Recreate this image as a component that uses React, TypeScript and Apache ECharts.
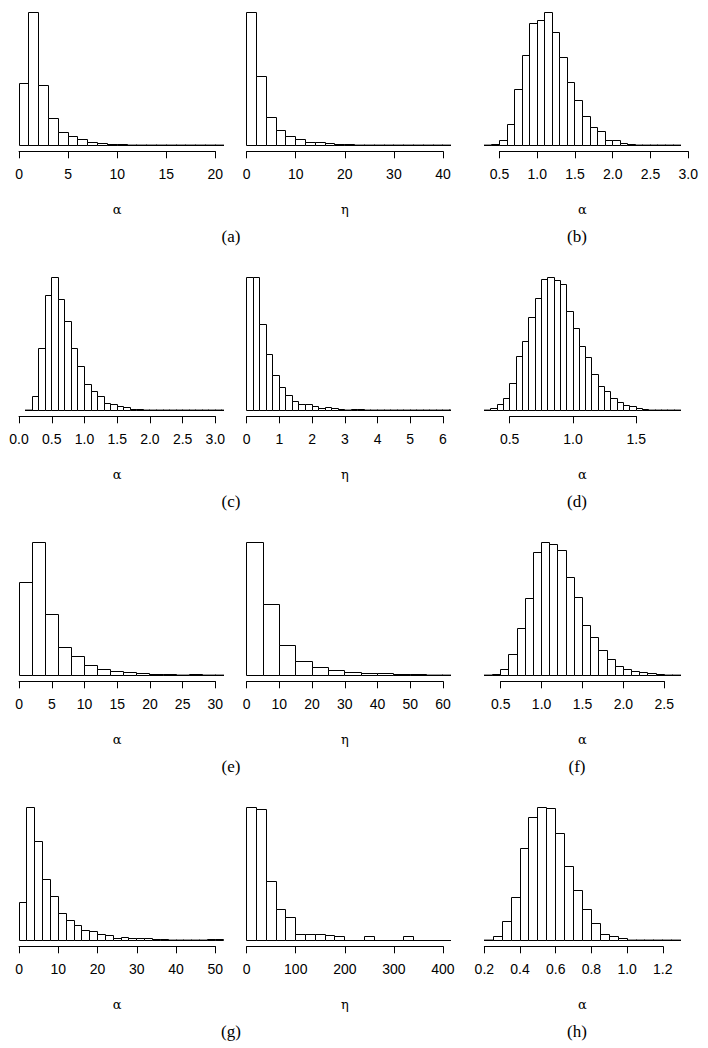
import React, { useEffect, useRef } from "react";
import * as echarts from "echarts";

// ---------- data (counts per histogram bin) ----------
// each histogram: bins = [first break, bin width]; xlim = plotted range; ticks = axis tick values

// (a) left : alpha
const aAlphaBins = [0, 1];
const aAlphaXlim = [0, 20];
const aAlphaTicks = [0, 5, 10, 15, 20];
const aAlphaCounts = [63, 134, 61, 28, 13, 9, 6, 3, 2.3, 1.3, 1, 0.8, 0.5, 0.5, 0.4, 0.3, 0.2, 0.2, 0.1, 0.1, 0.1];

// (a) right : eta
const aEtaBins = [0, 2];
const aEtaXlim = [0, 40];
const aEtaTicks = [0, 10, 20, 30, 40];
const aEtaCounts = [133.3, 69.3, 28.3, 15.3, 9.3, 6, 3.7, 3.3, 2, 1.7, 1, 0.7, 0.5, 0.4, 0.3, 0.2, 0.2, 0.2, 0.1, 0.1, 0.1];

// (b) : alpha
const bAlphaBins = [0.3, 0.1];
const bAlphaXlim = [0.3, 2.9];
const bAlphaTicks = [0.5, 1.0, 1.5, 2.0, 2.5, 3.0];
const bAlphaCounts = [0.3, 1.3, 5.3, 21.3, 56, 90.3, 122.3, 125.3, 133.3, 113.3, 88.3, 63.7, 45.7, 29, 18.7, 14, 5, 5, 2.7, 1.3, 0.7, 0.3, 0.2, 0.1, 0.1, 0.1];

// (c) left : alpha
const cAlphaBins = [0.1, 0.1];
const cAlphaXlim = [0, 3];
const cAlphaTicks = [0.0, 0.5, 1.0, 1.5, 2.0, 2.5, 3.0];
const cAlphaCounts = [0.7, 14.3, 62, 114.7, 133.3, 111.3, 89.3, 62.3, 44, 26.3, 19.3, 14, 7.7, 6.3, 4, 3, 1.7, 1, 0.7, 0.6, 0.4, 0.3, 0.3, 0.2, 0.2, 0.1, 0.1, 0.1, 0.1, 0.1, 0.1];

// (c) right : eta
const cEtaBins = [0, 0.2];
const cEtaXlim = [0, 6];
const cEtaTicks = [0, 1, 2, 3, 4, 5, 6];
const cEtaCounts = [132.7, 133.3, 86.3, 56, 35, 23.3, 15.3, 9.7, 6.3, 6.3, 4.3, 2, 3, 2.3, 1.7, 0.7, 1, 1, 0.4, 0.3, 0.2, 0.2, 0.2, 0.1, 0.1, 0.1, 0.2, 0.1, 0.1, 0.1, 0.1, 0.1];

// (d) : alpha
const dAlphaBins = [0.3, 0.05];
const dAlphaXlim = [0.3, 1.85];
const dAlphaTicks = [0.5, 1.0, 1.5];
const dAlphaCounts = [0.3, 2.3, 6.3, 12, 27, 54.7, 69, 93, 112, 131.3, 133.3, 129.7, 126.3, 99, 82.3, 64, 53, 36.3, 24.3, 19.7, 12, 8.3, 5.7, 4.3, 2.3, 1.7, 0.7, 0.5, 0.3, 0.2, 0.1];

// (e) left : alpha
const eAlphaBins = [0, 2];
const eAlphaXlim = [0, 30];
const eAlphaTicks = [0, 5, 10, 15, 20, 25, 30];
const eAlphaCounts = [93.7, 133.3, 61.3, 28.3, 19, 10.3, 6.3, 4.3, 3, 2.3, 1.3, 1.3, 0.7, 1, 0.7, 0.5];

// (e) right : eta
const eEtaBins = [0, 5];
const eEtaXlim = [0, 60];
const eEtaTicks = [0, 10, 20, 30, 40, 50, 60];
const eEtaCounts = [133.3, 71.3, 30, 14.3, 8.3, 5, 3.3, 2.3, 2.3, 1.3, 1, 0.6, 0.5];

// (f) : alpha
const fAlphaBins = [0.3, 0.1];
const fAlphaXlim = [0.3, 2.7];
const fAlphaTicks = [0.5, 1.0, 1.5, 2.0, 2.5];
const fAlphaCounts = [0.3, 1.3, 6.3, 21.3, 47, 77.3, 123.3, 133.3, 131.3, 125.3, 98.3, 78.3, 50.3, 38.3, 25.3, 16, 9.3, 6, 4, 3, 2, 1.3, 0.7, 0.3];

// (g) left : alpha
const gAlphaBins = [0, 2];
const gAlphaXlim = [0, 50];
const gAlphaTicks = [0, 10, 20, 30, 40, 50];
const gAlphaCounts = [38.3, 133.7, 99.7, 61.7, 44, 27.7, 20, 15.7, 10.3, 9.3, 6.7, 5.7, 2.3, 3.7, 2.7, 2.3, 2.3, 1, 1.3, 0.7, 0.7, 0.7, 0.5, 0.5, 1, 1];

// (g) right : eta
const gEtaBins = [0, 20];
const gEtaXlim = [0, 400];
const gEtaTicks = [0, 100, 200, 300, 400];
const gEtaCounts = [133.7, 131.7, 59.7, 31.7, 23, 6.3, 6.3, 6.7, 5.7, 4.3, 0, 0, 4.7, 0, 0, 0, 4, 0, 0, 0, 0];

// (h) : alpha
const hAlphaBins = [0.2, 0.05];
const hAlphaXlim = [0.2, 1.3];
const hAlphaTicks = [0.2, 0.4, 0.6, 0.8, 1.0, 1.2];
const hAlphaCounts = [0.7, 4.7, 19.7, 43.3, 92.7, 123.3, 133.7, 133, 107.7, 75, 50.3, 31.7, 17.7, 6, 4.3, 2.3, 0.7, 0.4, 0.3, 0.2, 0.1, 0.1];

const captions = ["(a)", "(b)", "(c)", "(d)", "(e)", "(f)", "(g)", "(h)"];

// ---------- layout ----------
const COL_LEFT = [11.2, 238.8, 476.5];
const ROW_TOP = [7, 272, 537, 802];
const PLOT_W = 212;
const PLOT_H = 144.3;
const CAPTION_X = [231, 577];
const CAPTION_Y0 = 236;
const ROW_STEP = 265;
const TITLE_GAP = 57.7;

type Panel = {
  counts: number[];
  bins: number[];
  xlim: number[];
  ticks: number[];
  name: string;
  row: number;
  col: number;
};

const panels: Panel[] = [
  { counts: aAlphaCounts, bins: aAlphaBins, xlim: aAlphaXlim, ticks: aAlphaTicks, name: "α", row: 0, col: 0 },
  { counts: aEtaCounts, bins: aEtaBins, xlim: aEtaXlim, ticks: aEtaTicks, name: "η", row: 0, col: 1 },
  { counts: bAlphaCounts, bins: bAlphaBins, xlim: bAlphaXlim, ticks: bAlphaTicks, name: "α", row: 0, col: 2 },
  { counts: cAlphaCounts, bins: cAlphaBins, xlim: cAlphaXlim, ticks: cAlphaTicks, name: "α", row: 1, col: 0 },
  { counts: cEtaCounts, bins: cEtaBins, xlim: cEtaXlim, ticks: cEtaTicks, name: "η", row: 1, col: 1 },
  { counts: dAlphaCounts, bins: dAlphaBins, xlim: dAlphaXlim, ticks: dAlphaTicks, name: "α", row: 1, col: 2 },
  { counts: eAlphaCounts, bins: eAlphaBins, xlim: eAlphaXlim, ticks: eAlphaTicks, name: "α", row: 2, col: 0 },
  { counts: eEtaCounts, bins: eEtaBins, xlim: eEtaXlim, ticks: eEtaTicks, name: "η", row: 2, col: 1 },
  { counts: fAlphaCounts, bins: fAlphaBins, xlim: fAlphaXlim, ticks: fAlphaTicks, name: "α", row: 2, col: 2 },
  { counts: gAlphaCounts, bins: gAlphaBins, xlim: gAlphaXlim, ticks: gAlphaTicks, name: "α", row: 3, col: 0 },
  { counts: gEtaCounts, bins: gEtaBins, xlim: gEtaXlim, ticks: gEtaTicks, name: "η", row: 3, col: 1 },
  { counts: hAlphaCounts, bins: hAlphaBins, xlim: hAlphaXlim, ticks: hAlphaTicks, name: "α", row: 3, col: 2 },
];

const TICK_FONT = "Liberation Sans, Arial, Helvetica, sans-serif";
const SERIF_FONT = "Liberation Serif, Times New Roman, serif";
const GREEK_FONT = "DejaVu Serif, serif";

const crisp = (v: number) => Math.round(v - 0.5) + 0.5;

const renderBin = (params: any, api: any) => {
  const cs = params.coordSys;
  const x0 = api.value(0);
  const x1 = api.value(1);
  const c = api.value(2);
  const p0 = api.coord([x0, 0]);
  const p1 = api.coord([x1, c]);
  // keep bins inside the plot region (like R's clipping to the plot area)
  const xLeft = Math.max(p0[0], cs.x);
  const xRight = Math.min(p1[0], cs.x + cs.width);
  if (xRight <= xLeft) return null;
  const xa = crisp(xLeft);
  const xb = crisp(xRight);
  const yb = crisp(p0[1]);
  const yt = crisp(p1[1]);
  const h = Math.max(yb - yt, 0);
  if (h >= 1) {
    return {
      type: "rect",
      shape: { x: xa, y: yt, width: xb - xa, height: h },
      style: { fill: "#ffffff", stroke: "#000000", lineWidth: 1 },
    };
  }
  // empty / near-empty bin: a flat bar, drawn as a one-pixel filled strip
  const thick = c > 0 ? 1.4 : 1;
  return {
    type: "rect",
    shape: { x: xa - 0.5, y: yb - 0.5 - (thick - 1), width: xb - xa + 1, height: thick },
    style: { fill: "#000000", lineWidth: 0 },
  };
};

function buildOption() {
  const grid: any[] = [];
  const xAxis: any[] = [];
  const yAxis: any[] = [];
  const series: any[] = [];
  const graphic: any[] = [];

  panels.forEach((p, i) => {
    const left = COL_LEFT[p.col];
    const top = ROW_TOP[p.row];
    const span = p.xlim[1] - p.xlim[0];
    const lo = p.xlim[0] - 0.04 * span;
    const hi = p.xlim[1] + 0.04 * span;
    const ymax = Math.max(...p.counts);
    const t0 = p.ticks[0];
    const t1 = p.ticks[p.ticks.length - 1];
    const step = p.ticks[1] - p.ticks[0];
    const decimals = step < 1 ? 1 : 0;

    const axLeft = left + ((t0 - lo) / (hi - lo)) * PLOT_W;
    const axWidth = ((t1 - t0) / (hi - lo)) * PLOT_W;

    grid.push({ left, top, width: PLOT_W, height: PLOT_H, containLabel: false });
    grid.push({ left: axLeft, top, width: axWidth, height: PLOT_H, containLabel: false });

    xAxis.push({
      gridIndex: 2 * i,
      type: "value",
      min: lo,
      max: hi,
      show: false,
    });
    xAxis.push({
      gridIndex: 2 * i + 1,
      type: "value",
      min: t0,
      max: t1,
      interval: step,
      axisLine: { show: true, lineStyle: { color: "#000", width: 1 } },
      axisTick: { show: true, length: 7, inside: false, lineStyle: { color: "#000", width: 1 } },
      axisLabel: {
        show: true,
        margin: 16,
        color: "#000",
        fontSize: 14,
        fontFamily: TICK_FONT,
        formatter: (v: number) => v.toFixed(decimals),
        showMinLabel: true,
        showMaxLabel: true,
      },
      splitLine: { show: false },
    });

    yAxis.push({ gridIndex: 2 * i, type: "value", min: -0.04 * ymax, max: 1.04 * ymax, show: false });
    yAxis.push({ gridIndex: 2 * i + 1, type: "value", min: 0, max: 1, show: false });

    const start = p.bins[0];
    const w = p.bins[1];
    series.push({
      type: "custom",
      xAxisIndex: 2 * i,
      yAxisIndex: 2 * i,
      clip: false,
      renderItem: renderBin,
      encode: { x: [0, 1], y: 2 },
      data: p.counts.map((c, k) => [start + k * w, start + (k + 1) * w, c]),
      silent: true,
    });

    // axis title (alpha / eta) centred under the plot region
    graphic.push({
      type: "text",
      x: left + PLOT_W / 2,
      y: top + PLOT_H + TITLE_GAP,
      silent: true,
      style: {
        text: p.name,
        align: "center",
        verticalAlign: "middle",
        fontFamily: GREEK_FONT,
        fontSize: 13,
        fill: "#000000",
      },
    });
  });

  captions.forEach((t, k) => {
    graphic.push({
      type: "text",
      x: CAPTION_X[k % 2],
      y: CAPTION_Y0 + ROW_STEP * Math.floor(k / 2),
      silent: true,
      style: {
        text: t,
        align: "center",
        verticalAlign: "middle",
        fontFamily: SERIF_FONT,
        fontSize: 17,
        fill: "#000000",
      },
    });
  });

  return {
    animation: false,
    backgroundColor: "#ffffff",
    grid,
    xAxis,
    yAxis,
    series,
    graphic,
  };
}

export default function App() {
  const ref = useRef<HTMLDivElement | null>(null);
  useEffect(() => {
    if (!ref.current) return;
    const chart = echarts.init(ref.current, null, { renderer: "svg" });
    chart.setOption(buildOption() as any);
    return () => chart.dispose();
  }, []);
  return (
    <div
      ref={ref}
      style={{ position: "absolute", left: 0, top: 0, width: 708, height: 1048, background: "#fff" }}
    />
  );
}
